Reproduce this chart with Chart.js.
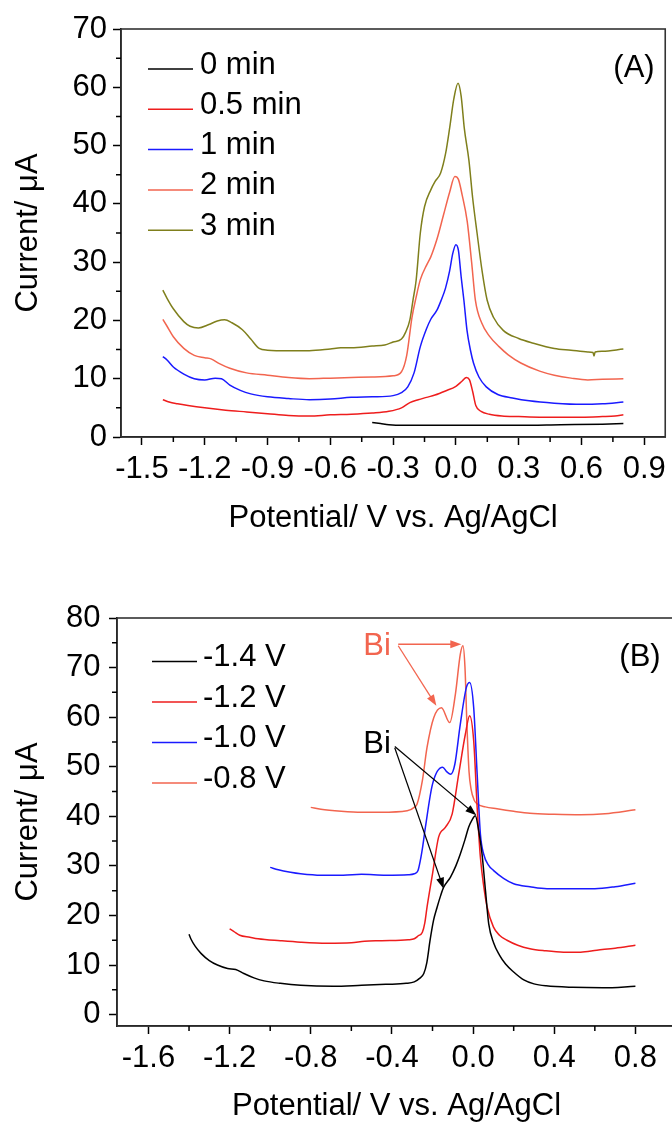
<!DOCTYPE html>
<html lang="en">
<head>
<meta charset="UTF-8">
<title>Stripping voltammograms</title>
<script src="https://cdn.jsdelivr.net/npm/chart.js"></script>
<style>
  html, body { margin: 0; padding: 0; background: #fff; overflow: hidden; }
  body { width: 672px; height: 1124px; position: relative; }
  .panel { position: absolute; left: 0; }
  #wrapA { top: 0; }
  #wrapB { top: 560px; }
</style>
</head>
<body>
<div class="panel" id="wrapA"><canvas id="chartA" width="672" height="560"></canvas></div>
<div class="panel" id="wrapB"><canvas id="chartB" width="684" height="600"></canvas></div>
<script>
// ---- panel A: deposition time ----
const aLabels = ['0 min', '0.5 min', '1 min', '2 min', '3 min'];
const aColors = ['#000000', '#ee1d1d', '#1a1aff', '#f2654f', '#7f7f1c'];
const aXTicks = [-1.5, -1.2, -0.9, -0.6, -0.3, 0.0, 0.3, 0.6, 0.9];
const aYTicks = [0, 10, 20, 30, 40, 50, 60, 70];

const a0x = [-0.40, -0.36, -0.32, -0.25, -0.1, 0.1, 0.3, 0.5, 0.7, 0.8];
const a0y = [2.5, 2.3, 2.1, 2.0, 2.0, 2.0, 2.0, 2.1, 2.2, 2.3];

const a05x = [-1.40, -1.37, -1.33, -1.28, -1.2, -1.1, -1.0, -0.9, -0.8, -0.7, -0.6, -0.5, -0.4, -0.32, -0.26, -0.22, -0.18, -0.14, -0.1, -0.05, 0.0, 0.03, 0.05, 0.065, 0.08, 0.095, 0.12, 0.16, 0.22, 0.3, 0.4, 0.5, 0.6, 0.7, 0.76, 0.8];
const a05y = [6.4, 6.0, 5.7, 5.4, 5.0, 4.6, 4.3, 4.0, 3.7, 3.6, 3.8, 3.9, 4.1, 4.4, 5.0, 5.9, 6.4, 6.8, 7.2, 7.9, 8.7, 9.6, 10.2, 9.8, 7.8, 5.4, 4.4, 3.9, 3.6, 3.5, 3.4, 3.4, 3.4, 3.5, 3.6, 3.8];

const a1x = [-1.40, -1.38, -1.35, -1.3, -1.25, -1.2, -1.15, -1.12, -1.08, -1.03, -0.98, -0.9, -0.8, -0.7, -0.6, -0.5, -0.4, -0.3, -0.26, -0.23, -0.2, -0.17, -0.14, -0.12, -0.09, -0.07, -0.05, -0.03, -0.015, 0.0, 0.012, 0.025, 0.038, 0.053, 0.07, 0.084, 0.11, 0.145, 0.2, 0.27, 0.35, 0.47, 0.6, 0.7, 0.8];
const a1y = [13.8, 13.2, 12.0, 10.8, 10.0, 9.8, 10.1, 10.0, 8.9, 8.0, 7.4, 6.9, 6.6, 6.4, 6.5, 6.8, 6.9, 7.1, 7.6, 8.6, 11.0, 15.5, 18.6, 20.2, 21.8, 23.5, 25.5, 28.5, 31.5, 33.0, 32.0, 27.5, 23.5, 18.3, 14.8, 12.7, 10.3, 8.6, 7.3, 6.7, 6.2, 5.8, 5.6, 5.7, 6.0];

const a2x = [-1.40, -1.38, -1.35, -1.3, -1.25, -1.2, -1.17, -1.13, -1.08, -1.0, -0.9, -0.8, -0.7, -0.6, -0.5, -0.4, -0.3, -0.26, -0.235, -0.21, -0.19, -0.17, -0.14, -0.12, -0.09, -0.06, -0.03, -0.005, 0.012, 0.03, 0.054, 0.075, 0.093, 0.124, 0.16, 0.206, 0.25, 0.31, 0.4, 0.47, 0.55, 0.63, 0.7, 0.8];
const a2y = [20.2, 19.0, 17.2, 15.2, 14.0, 13.6, 13.4, 12.6, 11.8, 11.0, 10.6, 10.2, 10.0, 10.1, 10.2, 10.3, 10.5, 11.2, 14.0, 20.5, 24.0, 27.0, 29.5, 30.9, 34.0, 38.0, 42.0, 44.7, 44.2, 41.5, 37.0, 30.0, 23.5, 19.5, 17.3, 15.5, 14.1, 12.7, 11.3, 10.6, 10.1, 9.8, 9.9, 10.0];

const a3x = [-1.40, -1.38, -1.35, -1.3, -1.27, -1.23, -1.18, -1.14, -1.105, -1.07, -1.02, -0.98, -0.94, -0.9, -0.8, -0.7, -0.6, -0.55, -0.5, -0.4, -0.34, -0.3, -0.26, -0.24, -0.22, -0.205, -0.19, -0.17, -0.15, -0.12, -0.1, -0.073, -0.049, -0.03, -0.01, 0.01, 0.025, 0.04, 0.062, 0.08, 0.101, 0.125, 0.149, 0.18, 0.226, 0.3, 0.37, 0.47, 0.55, 0.63, 0.655, 0.66, 0.665, 0.7, 0.8];
const a3y = [25.2, 23.8, 22.0, 19.8, 19.0, 18.7, 19.3, 19.9, 20.1, 19.6, 18.4, 16.8, 15.2, 14.9, 14.8, 14.8, 15.1, 15.3, 15.3, 15.6, 15.8, 16.3, 16.8, 18.0, 20.1, 23.5, 26.9, 35.0, 39.5, 42.4, 43.8, 45.3, 48.7, 53.0, 58.0, 60.7, 58.5, 53.0, 47.5, 41.0, 35.0, 28.5, 23.5, 20.5, 18.3, 16.9, 16.1, 15.2, 14.9, 14.6, 14.5, 13.9, 14.6, 14.7, 15.1];

// ---- panel B: deposition potential ----
const bLabels = ['-1.4 V', '-1.2 V', '-1.0 V', '-0.8 V'];
const bColors = ['#000000', '#ee1d1d', '#1a1aff', '#f2654f'];
const bXTicks = [-1.6, -1.2, -0.8, -0.4, 0.0, 0.4, 0.8];
const bYTicks = [0, 10, 20, 30, 40, 50, 60, 70, 80];

const b14x = [-1.40, -1.39, -1.37, -1.34, -1.30, -1.26, -1.21, -1.17, -1.13, -1.08, -1.03, -0.95, -0.85, -0.69, -0.55, -0.43, -0.33, -0.29, -0.264, -0.243, -0.228, -0.212, -0.195, -0.177, -0.16, -0.145, -0.112, -0.085, -0.063, -0.04, -0.022, -0.005, 0.011, 0.028, 0.044, 0.061, 0.077, 0.101, 0.13, 0.16, 0.197, 0.25, 0.3, 0.36, 0.49, 0.64, 0.8];
const b14y = [16.2, 15.2, 13.8, 12.3, 10.9, 10.0, 9.3, 9.1, 8.3, 7.4, 6.8, 6.3, 5.9, 5.7, 5.9, 6.1, 6.3, 6.6, 7.3, 8.3, 10.5, 15.0, 19.0, 21.7, 24.0, 25.7, 27.7, 30.0, 32.4, 35.3, 37.8, 39.3, 40.1, 37.0, 32.4, 25.0, 18.3, 14.5, 12.0, 10.2, 8.7, 7.0, 6.2, 5.8, 5.5, 5.4, 5.7];

const b12x = [-1.20, -1.18, -1.15, -1.10, -1.06, -0.95, -0.85, -0.72, -0.6, -0.535, -0.45, -0.32, -0.29, -0.27, -0.25, -0.238, -0.227, -0.2, -0.17, -0.136, -0.103, -0.071, -0.038, -0.017, 0.003, 0.02, 0.036, 0.052, 0.069, 0.1, 0.13, 0.167, 0.22, 0.28, 0.35, 0.446, 0.53, 0.61, 0.7, 0.8];
const b12y = [17.3, 16.8, 16.0, 15.6, 15.3, 14.9, 14.6, 14.4, 14.5, 14.8, 14.9, 15.1, 15.3, 15.9, 16.6, 18.5, 21.7, 28.4, 35.8, 37.8, 40.5, 48.5, 56.6, 60.3, 55.2, 41.8, 31.7, 26.0, 21.7, 17.7, 16.0, 15.0, 14.0, 13.3, 12.9, 12.6, 12.6, 13.0, 13.4, 14.0];

const b10x = [-1.00, -0.96, -0.9, -0.85, -0.75, -0.64, -0.55, -0.43, -0.32, -0.29, -0.272, -0.26, -0.248, -0.235, -0.2, -0.15, -0.13, -0.11, -0.09, -0.063, -0.033, -0.017, 0.003, 0.02, 0.036, 0.052, 0.075, 0.1, 0.15, 0.2, 0.28, 0.364, 0.45, 0.6, 0.7, 0.8];
const b10y = [29.7, 29.2, 28.7, 28.4, 28.1, 28.1, 28.3, 28.1, 28.2, 28.4, 29.0, 31.1, 34.0, 37.8, 46.5, 49.9, 49.0, 48.5, 50.5, 58.6, 66.0, 67.0, 61.9, 48.5, 36.4, 32.4, 30.2, 29.1, 27.5, 26.4, 25.8, 25.4, 25.4, 25.4, 25.8, 26.5];

const b08x = [-0.80, -0.75, -0.65, -0.55, -0.456, -0.325, -0.29, -0.276, -0.25, -0.227, -0.194, -0.156, -0.115, -0.087, -0.063, -0.05, -0.04, -0.03, -0.02, -0.01, 0.005, 0.02, 0.06, 0.118, 0.2, 0.28, 0.4, 0.53, 0.65, 0.8];
const b08y = [41.8, 41.4, 41.0, 40.8, 40.8, 41.1, 41.8, 42.5, 47.2, 53.9, 59.9, 61.9, 58.9, 64.7, 72.7, 74.4, 70.0, 58.0, 49.0, 45.5, 43.3, 42.5, 41.9, 41.5, 41.0, 40.6, 40.4, 40.3, 40.5, 41.3];

// "Bi" callouts: text anchor [x, y] and arrows [x0, y0, x1, y1] in data units
const biRedText = [-0.473, 74.3];
const biRedArrows = [[-0.369, 74.7, -0.058, 74.7], [-0.369, 74.4, -0.181, 62.3]];
const biBlackText = [-0.473, 54.4];
const biBlackArrows = [[-0.386, 54.1, 0.016, 40.2], [-0.386, 53.8, -0.145, 25.4]];

const FONT = '"Liberation Sans", Arial, Helvetica, sans-serif';
const FS = 31;
Chart.defaults.font.family = FONT;
Chart.defaults.color = '#000';

function pts(xs, ys) { return xs.map((x, i) => ({x: x, y: ys[i]})); }
function fmt1(v) { return (Math.abs(v) < 1e-9 ? 0 : v).toFixed(1); }

function series(labels, colors, xsList, ysList) {
  return labels.map((lab, i) => ({
    label: lab,
    data: pts(xsList[i], ysList[i]),
    borderColor: colors[i],
    borderWidth: 1.5,
    pointRadius: 0,
    cubicInterpolationMode: 'monotone',
    fill: false
  }));
}

// frame around the plot area
const frame = {
  id: 'frame',
  afterDraw(chart, args, o) {
    const {ctx, chartArea: a} = chart;
    ctx.save();
    ctx.strokeStyle = o.color;
    ctx.lineWidth = o.width;
    ctx.strokeRect(a.left, a.top, a.right - a.left, a.bottom - a.top);
    ctx.restore();
  }
};

// short ticks halfway between the labelled ones
function halfSteps(scale) {
  const v = scale.ticks.map(t => t.value);
  const step = v[1] - v[0];
  const out = [];
  for (let t = v[0] - step / 2; t <= scale.max + 1e-9; t += step) {
    if (t >= scale.min - 1e-9) out.push(t);
  }
  return out;
}
const minorTicks = {
  id: 'minorTicks',
  afterDraw(chart, args, o) {
    const {ctx, chartArea: a, scales: {x, y}} = chart;
    ctx.save();
    ctx.strokeStyle = '#000';
    ctx.lineWidth = o.width;
    ctx.beginPath();
    halfSteps(x).forEach(v => {
      const p = x.getPixelForValue(v);
      ctx.moveTo(p, a.bottom);
      ctx.lineTo(p, a.bottom + o.len);
    });
    halfSteps(y).forEach(v => {
      const p = y.getPixelForValue(v);
      ctx.moveTo(a.left, p);
      ctx.lineTo(a.left - o.len, p);
    });
    ctx.stroke();
    ctx.restore();
  }
};

// legend drawn inside the plot, Origin style, plus the panel letter
const insideLegend = {
  id: 'insideLegend',
  afterDraw(chart, args, o) {
    const ctx = chart.ctx;
    ctx.save();
    ctx.font = o.size + 'px ' + FONT;
    ctx.textBaseline = 'middle';
    ctx.textAlign = 'left';
    chart.data.datasets.forEach((ds, i) => {
      const y = o.top + i * o.gap;
      ctx.strokeStyle = ds.borderColor;
      ctx.lineWidth = 1.5;
      ctx.beginPath();
      ctx.moveTo(o.x0, y + o.lineDy);
      ctx.lineTo(o.x1, y + o.lineDy);
      ctx.stroke();
      ctx.fillStyle = '#000';
      ctx.fillText(ds.label, o.textX, y);
    });
    ctx.textAlign = 'center';
    ctx.fillText(o.panel, o.panelX, o.panelY);
    ctx.restore();
  }
};

function arrow(ctx, x0, y0, x1, y1) {
  const ang = Math.atan2(y1 - y0, x1 - x0);
  const len = 11, half = 4;
  ctx.beginPath();
  ctx.moveTo(x0, y0);
  ctx.lineTo(x1 - Math.cos(ang) * len * 0.8, y1 - Math.sin(ang) * len * 0.8);
  ctx.stroke();
  ctx.beginPath();
  ctx.moveTo(x1, y1);
  ctx.lineTo(x1 - Math.cos(ang) * len - Math.sin(ang) * half, y1 - Math.sin(ang) * len + Math.cos(ang) * half);
  ctx.lineTo(x1 - Math.cos(ang) * len + Math.sin(ang) * half, y1 - Math.sin(ang) * len - Math.cos(ang) * half);
  ctx.closePath();
  ctx.fill();
}

const callouts = {
  id: 'callouts',
  afterDraw(chart, args, o) {
    const {ctx, scales: {x, y}} = chart;
    ctx.save();
    ctx.font = o.size + 'px ' + FONT;
    ctx.textAlign = 'center';
    ctx.textBaseline = 'middle';
    o.groups.forEach(g => {
      ctx.strokeStyle = g.color;
      ctx.fillStyle = g.color;
      ctx.lineWidth = 1.3;
      ctx.fillText('Bi', x.getPixelForValue(g.text[0]), y.getPixelForValue(g.text[1]));
      g.arrows.forEach(r => arrow(ctx, x.getPixelForValue(r[0]), y.getPixelForValue(r[1]),
                                     x.getPixelForValue(r[2]), y.getPixelForValue(r[3])));
    });
    ctx.restore();
  }
};

function axisX(min, max, ticks, boxH, titlePad) {
  return {
    type: 'linear', min: min, max: max,
    afterBuildTicks: s => { s.ticks = ticks.map(v => ({value: v})); },
    afterFit: s => { s.height = boxH; },
    grid: { drawOnChartArea: false, drawTicks: true, tickLength: 8, tickColor: '#000', tickWidth: 1.5 },
    border: { display: true, color: '#000', width: 1.6 },
    ticks: { color: '#000', font: {size: FS}, padding: 6, maxRotation: 0, minRotation: 0, autoSkip: false, callback: v => fmt1(v) },
    title: { display: true, text: 'Potential/ V vs. Ag/AgCl', color: '#000', font: {size: FS}, padding: {top: 0, bottom: titlePad} }
  };
}
function axisY(min, max, ticks, boxW, tickPad) {
  return {
    min: min, max: max,
    afterBuildTicks: s => { s.ticks = ticks.map(v => ({value: v})); },
    afterFit: s => { s.width = boxW; },
    grid: { drawOnChartArea: false, drawTicks: true, tickLength: 8, tickColor: '#000', tickWidth: 1.5 },
    border: { display: true, color: '#000', width: 1.6 },
    ticks: { color: '#000', font: {size: FS}, padding: tickPad, autoSkip: false, callback: v => String(v) },
    title: { display: true, text: 'Current/ \u03bcA', color: '#000', font: {size: FS}, padding: {top: 10, bottom: 0} }
  };
}

new Chart(document.getElementById('chartA'), {
  type: 'line',
  data: { datasets: series(aLabels, aColors, [a0x, a05x, a1x, a2x, a3x], [a0y, a05y, a1y, a2y, a3y]) },
  options: {
    responsive: false, animation: false,
    layout: { padding: {top: 29, right: 4, bottom: 0, left: 0} },
    plugins: {
      legend: {display: false}, tooltip: {enabled: false},
      frame: {color: '#333', width: 1.6},
      minorTicks: {len: 5, width: 1.5},
      insideLegend: {size: FS, x0: 148, x1: 193, textX: 200, top: 65, gap: 40.3, lineDy: 4, panel: '(A)', panelX: 634, panelY: 68}
    },
    scales: { x: axisX(-1.6, 1.0, aXTicks, 123, 23), y: axisY(0, 70, aYTicks, 121, 6) }
  },
  plugins: [frame, minorTicks, insideLegend]
});

new Chart(document.getElementById('chartB'), {
  type: 'line',
  data: { datasets: series(bLabels, bColors, [b14x, b12x, b10x, b08x], [b14y, b12y, b10y, b08y]) },
  options: {
    responsive: false, animation: false,
    layout: { padding: {top: 58, right: 8, bottom: 0, left: 0} },
    plugins: {
      legend: {display: false}, tooltip: {enabled: false},
      frame: {color: '#333', width: 1.6},
      minorTicks: {len: 5, width: 1.5},
      insideLegend: {size: FS, x0: 152, x1: 197, textX: 203, top: 97.5, gap: 40.5, lineDy: 4, panel: '(B)', panelX: 640, panelY: 97},
      callouts: {size: FS, groups: [
        {color: '#f2654f', text: biRedText, arrows: biRedArrows},
        {color: '#000000', text: biBlackText, arrows: biBlackArrows}
      ]}
    },
    scales: { x: axisX(-1.755, 1.0, bXTicks, 134, 35), y: axisY(-2.3, 80, bYTicks, 117, 8.5) }
  },
  plugins: [frame, minorTicks, insideLegend, callouts]
});
</script>
</body>
</html>
